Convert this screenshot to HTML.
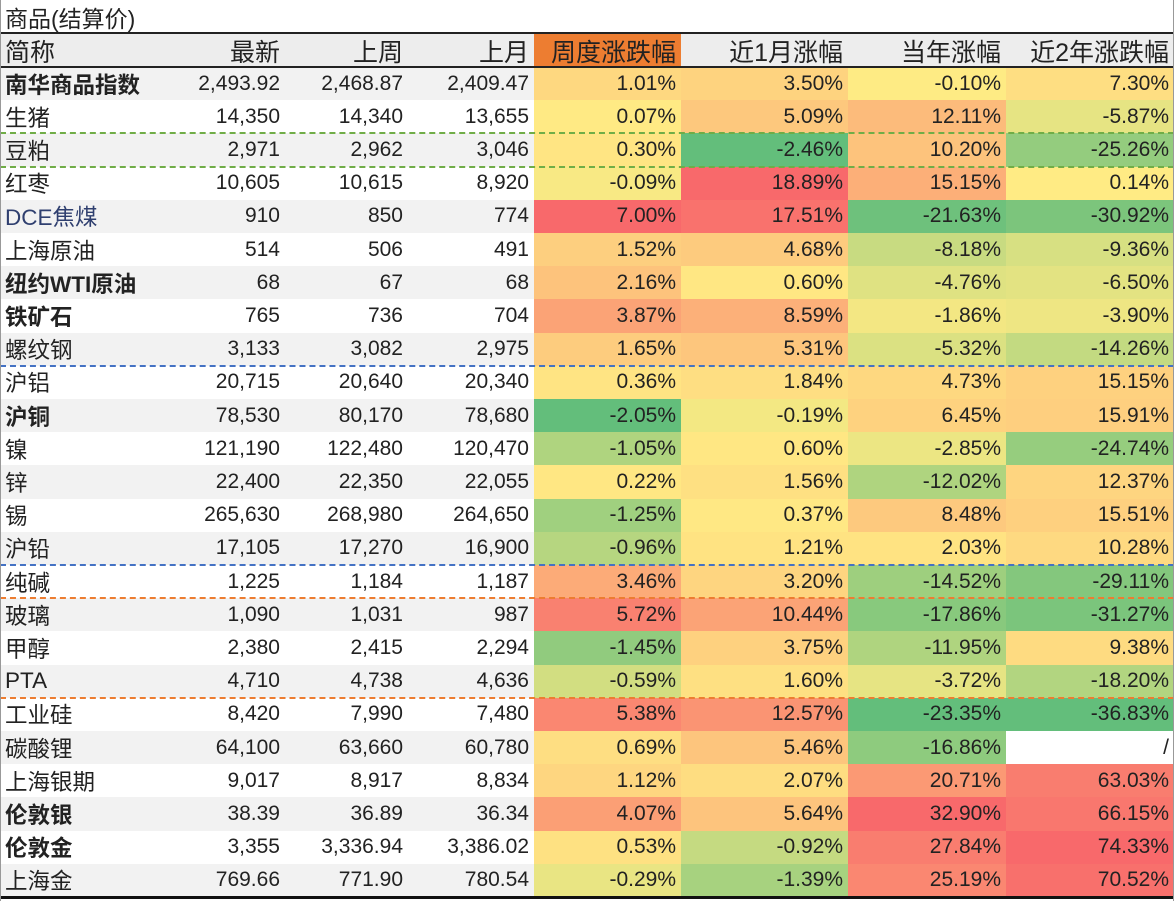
<!DOCTYPE html>
<html><head><meta charset="utf-8">
<style>
body{margin:0;width:1174px;height:901px;overflow:hidden;background:#fff;font-family:"Liberation Sans","Noto Sans CJK SC",sans-serif;color:#222}
#t{position:absolute;left:0;top:0;width:1174px;height:901px}
.c{position:absolute;box-sizing:border-box;white-space:nowrap;overflow:hidden;display:flex;align-items:center}
.r{justify-content:flex-end;padding-right:5px}
.l{padding-left:5px}
.sep{position:absolute;left:0;width:1174px;height:0;border-top:2px dashed}
</style></head><body>
<div id="t"></div>
<script>
const names=["南华商品指数","生猪","豆粕","红枣","DCE焦煤","上海原油","纽约WTI原油","铁矿石","螺纹钢","沪铝","沪铜","镍","锌","锡","沪铅","纯碱","玻璃","甲醇","PTA","工业硅","碳酸锂","上海银期","伦敦银","伦敦金","上海金"];
const bold=[1,0,0,0,0,0,1,1,0,0,1,0,0,0,0,0,0,0,0,0,0,0,1,1,0];
const latest=["2,493.92","14,350","2,971","10,605","910","514","68","765","3,133","20,715","78,530","121,190","22,400","265,630","17,105","1,225","1,090","2,380","4,710","8,420","64,100","9,017","38.39","3,355","769.66"];
const lastWeek=["2,468.87","14,340","2,962","10,615","850","506","67","736","3,082","20,640","80,170","122,480","22,350","268,980","17,270","1,184","1,031","2,415","4,738","7,990","63,660","8,917","36.89","3,336.94","771.90"];
const lastMonth=["2,409.47","13,655","3,046","8,920","774","491","68","704","2,975","20,340","78,680","120,470","22,055","264,650","16,900","1,187","987","2,294","4,636","7,480","60,780","8,834","36.34","3,386.02","780.54"];
const weekChg=[1.01,0.07,0.30,-0.09,7.00,1.52,2.16,3.87,1.65,0.36,-2.05,-1.05,0.22,-1.25,-0.96,3.46,5.72,-1.45,-0.59,5.38,0.69,1.12,4.07,0.53,-0.29];
const monthChg=[3.50,5.09,-2.46,18.89,17.51,4.68,0.60,8.59,5.31,1.84,-0.19,0.60,1.56,0.37,1.21,3.20,10.44,3.75,1.60,12.57,5.46,2.07,5.64,-0.92,-1.39];
const ytdChg=[-0.10,12.11,10.20,15.15,-21.63,-8.18,-4.76,-1.86,-5.32,4.73,6.45,-2.85,-12.02,8.48,2.03,-14.52,-17.86,-11.95,-3.72,-23.35,-16.86,20.71,32.90,27.84,25.19];
const y2Chg=[7.30,-5.87,-25.26,0.14,-30.92,-9.36,-6.50,-3.90,-14.26,15.15,15.91,-24.74,12.37,15.51,10.28,-29.11,-31.27,9.38,-18.20,-36.83,null,63.03,66.15,74.33,70.52];
const headers=["简称","最新","上周","上月","周度涨跌幅","近1月涨幅","当年涨幅","近2年涨跌幅"];
const colX=[0,160,285,408,534,681,848,1006,1174];
const T=document.getElementById('t');
const top0=67,rh=33.2,fs=21;
function cell(x,y,w,h,txt,cls,bg,fw,name,size){const d=document.createElement('div');d.className='c '+cls;d.style.left=x+'px';d.style.top=y+'px';d.style.width=w+'px';d.style.height=h+'px';if(bg)d.style.background=bg;d.style.fontWeight=fw?'bold':'normal';d.style.fontSize=(size||fs)+'px';d.textContent=txt;


T.appendChild(d);return d;}
function lerp(a,b,t){t=Math.max(0,Math.min(1,t));return a.map((v,i)=>Math.round(v+(b[i]-v)*t));}
const G=[99,190,123],Y=[255,235,132],R=[248,105,107];
function scale(arr){const v=arr.filter(x=>x!==null);const mn=Math.min(...v),mx=Math.max(...v);const med=0;
return x=>{if(x===null)return '#fff';let c=x<=med?lerp(G,Y,(x-mn)/(med-mn)):lerp(Y,R,(x-med)/(mx-med));return 'rgb('+c.join(',')+')';};}
cell(0,0,1174,33,"商品(结算价)","l",null,0,"table-title",23);
headers.forEach((h,i)=>{cell(colX[i],34,colX[i+1]-colX[i],33,h,i==0?'l':'r',i==4?'#ED7D31':'#EDEDED',0,'header-'+i,25);});
const pcts=[weekChg,monthChg,ytdChg,y2Chg];const scs=pcts.map(scale);
names.forEach((n,r)=>{const y=top0+r*rh;const bg=r%2==0?'#F2F2F2':'#FFFFFF';
const nc=cell(colX[0],y,colX[1],rh,n,'l',bg,bold[r],'row-name-'+r,22.5);if(r==4)nc.style.color='#2f3f6f';
[latest,lastWeek,lastMonth].forEach((a,i)=>cell(colX[i+1],y,colX[i+2]-colX[i+1],rh,a[r],'r',bg,0,'value-'+r+'-'+i));
pcts.forEach((a,i)=>{const v=a[r];cell(colX[i+4],y,colX[i+5]-colX[i+4],rh,v===null?'/':v.toFixed(2)+'%','r',scs[i](v),0,'pct-'+r+'-'+i);});
});
function line(y,col,solid,w){const d=document.createElement('div');d.className='sep';d.style.top=y+'px';d.style.borderTopColor=col;if(solid)d.style.borderTopStyle='solid';if(w)d.style.borderTopWidth=w+'px';


T.appendChild(d);}
line(32,'#222',1,2);line(66,'#222',1,2);
[[2,'#70AD47'],[3,'#70AD47'],[9,'#4472C4'],[15,'#4472C4'],[16,'#ED7D31'],[19,'#ED7D31']].forEach(([r,c])=>line(top0+r*rh-1,c));
line(top0+25*rh-1,'#111',1,3);
const lb=document.createElement('div');lb.style.cssText='position:absolute;left:0;top:0;width:1px;height:901px;background:#999';


T.appendChild(lb);
const rb=document.createElement('div');rb.style.cssText='position:absolute;right:0;top:0;width:1px;height:901px;background:#999';


T.appendChild(rb);
</script>
</body></html>
